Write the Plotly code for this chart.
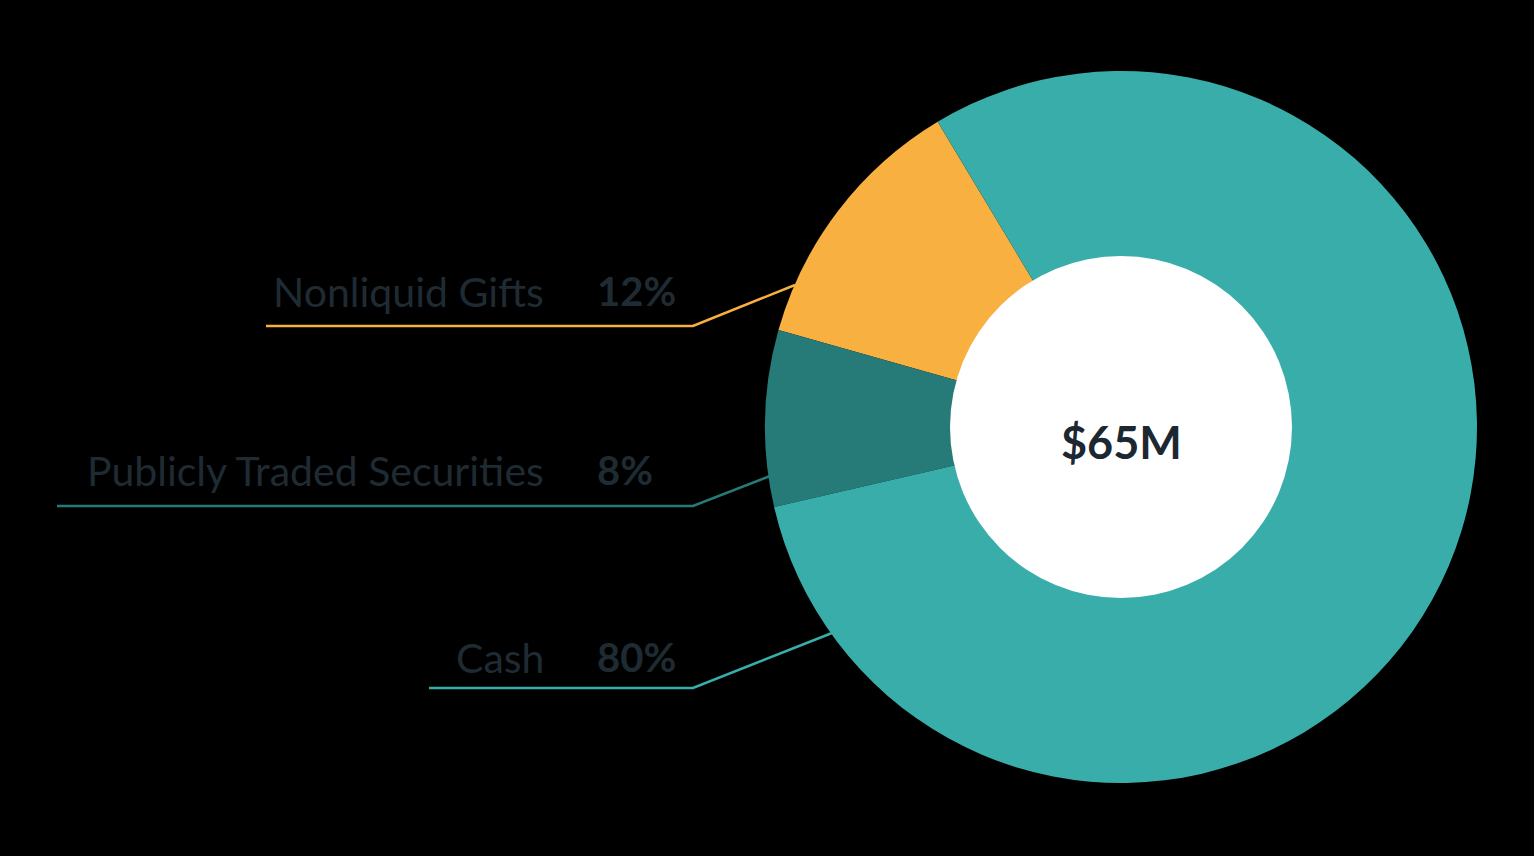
import plotly.graph_objects as go

labels = ["Nonliquid Gifts", "Publicly Traded Securities", "Cash"]
values = [12, 8, 80]
colors = ["#f8b040", "#267b78", "#38ada9"]
pct_text = ["12%", "8%", "80%"]
center_text = "$65M"

W, H = 1534, 856
cx, cy, R, r_in = 1121, 427, 356, 171

def px(x):
    return x / W

def py(y):
    return 1 - y / H

fig = go.Figure()
fig.add_trace(go.Pie(
    labels=labels, values=values, sort=False, direction="counterclockwise",
    rotation=-74.2, marker=dict(colors=colors, line=dict(width=0)),
    textinfo="none", hoverinfo="label+percent", showlegend=False,
    domain=dict(x=[px(cx - R), px(cx + R)], y=[py(cy + R), py(cy - R)]),
))

shapes = [dict(type="circle", xref="paper", yref="paper",
               x0=px(cx - r_in), x1=px(cx + r_in), y0=py(cy + r_in), y1=py(cy - r_in),
               fillcolor="white", line=dict(width=0), layer="above")]

# leader lines: (start x, line y, elbow x, end x, end y)
leaders = [
    (266, 326, 693, 795, 285),
    (57, 506, 693, 770, 476),
    (429, 688, 693, 832, 633),
]
label_y = [291, 470, 657]
annotations = []
for i, (x0, ly, ex, x1, y1) in enumerate(leaders):
    shapes.append(dict(type="path", xref="paper", yref="paper",
                       path=f"M {px(x0)} {py(ly)} L {px(ex)} {py(ly)} L {px(x1)} {py(y1)}",
                       line=dict(color=colors[i], width=2.5)))
    annotations.append(dict(x=px(546), y=py(label_y[i]), xref="paper", yref="paper",
                            text=labels[i], showarrow=False, xanchor="right", yanchor="middle",
                            font=dict(family="Lato", size=41, color="#1f2b33")))
    annotations.append(dict(x=px(595), y=py(label_y[i]), xref="paper", yref="paper",
                            text=f"<b>{pct_text[i]}</b>", showarrow=False, xanchor="left", yanchor="middle",
                            font=dict(family="Lato", size=40, color="#1f2b33")))

annotations.append(dict(x=px(cx), y=py(442), xref="paper", yref="paper",
                        text=f"<b>{center_text}</b>", showarrow=False, xanchor="center", yanchor="middle",
                        font=dict(family="Lato", size=45, color="#1c2731")))

fig.update_layout(
    width=W, height=H, margin=dict(l=0, r=0, t=0, b=0),
    paper_bgcolor="black", plot_bgcolor="black",
    shapes=shapes, annotations=annotations,
)
fig.write_html("out.html", config={"displayModeBar": False},
               post_script="document.body.style.margin='0';document.body.style.background='black';")
